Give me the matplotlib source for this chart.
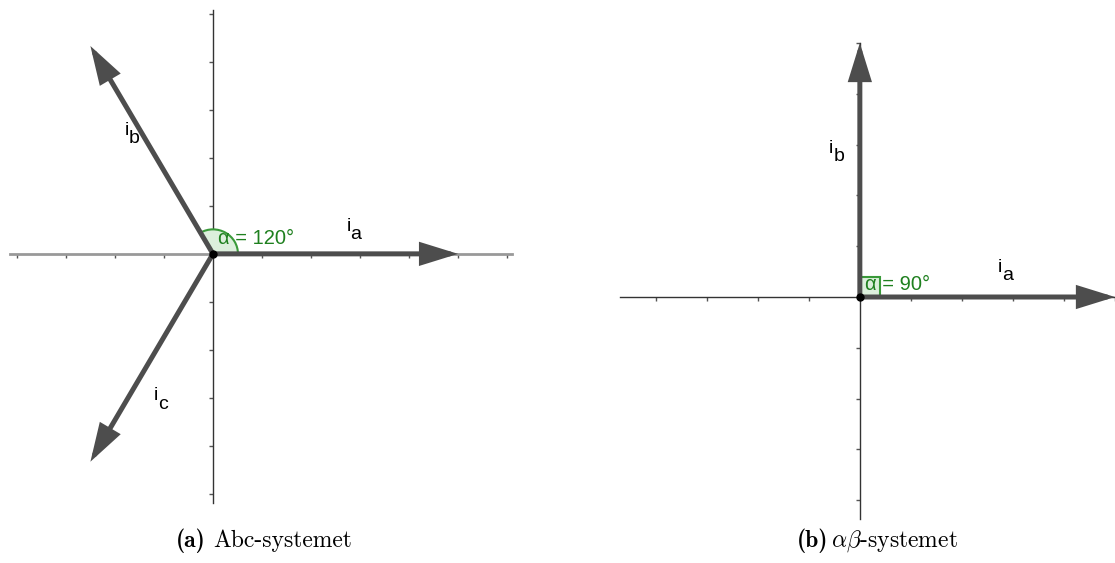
import numpy as np
import matplotlib
matplotlib.use("Agg")
import matplotlib.pyplot as plt
from matplotlib.patches import Wedge, Rectangle

# phasor data (length, angle in degrees)
abc_names = ["a", "b", "c"]
abc_angles = [0, 120, 240]
ab_names = ["a", "b"]
ab_angles = [0, 90]
vec_len = 5

# label positions (data units, position of the "i")
abc_label_pos = [(2.72, 0.48), (-1.8, 2.48), (-1.2, -3.05)]
ab_label_pos = [(2.7, 0.5), (-0.6, 2.84)]

W, H = 1115, 563
fig = plt.figure(figsize=(W / 100, H / 100), dpi=100)

arrow_col = "#4d4d4d"
green = "#1f801f"


def add_panel(px0, px1, py0, py1, xlim, ylim, xaxis_col, xaxis_lw):
    ax = fig.add_axes([px0 / W, 1 - py1 / H, (px1 - px0) / W, (py1 - py0) / H])
    ax.set_xlim(*xlim)
    ax.set_ylim(*ylim)
    for s in ["top", "right"]:
        ax.spines[s].set_visible(False)
    ax.spines["left"].set_position(("data", 0))
    ax.spines["bottom"].set_position(("data", 0))
    ax.spines["left"].set_color("#333333")
    ax.spines["left"].set_linewidth(1)
    ax.spines["bottom"].set_color(xaxis_col)
    ax.spines["bottom"].set_linewidth(xaxis_lw)
    xt = [t for t in range(int(np.ceil(xlim[0])), int(np.floor(xlim[1])) + 1) if t != 0]
    yt = [t for t in range(int(np.ceil(ylim[0])), int(np.floor(ylim[1])) + 1) if t != 0]
    ax.set_xticks(xt)
    ax.set_yticks(yt)
    ax.set_xticklabels([])
    ax.set_yticklabels([])
    ax.tick_params(direction="out", length=3, width=1, colors="#555555")
    ax.patch.set_alpha(0)
    return ax


def draw_vectors(ax, angles, names, label_pos):
    for ang, nm, (lx, ly) in zip(angles, names, label_pos):
        tip = (vec_len * np.cos(np.radians(ang)), vec_len * np.sin(np.radians(ang)))
        ax.annotate("", xy=tip, xytext=(0, 0),
                    arrowprops=dict(arrowstyle="-|>,head_length=1.45,head_width=0.45",
                                    mutation_scale=14, lw=3.6, color=arrow_col,
                                    shrinkA=0, shrinkB=0, joinstyle="miter"),
                    annotation_clip=False, zorder=4)
        ax.text(lx, ly, "i", fontsize=14, family="Liberation Sans",
                ha="left", va="baseline", zorder=6)
        ax.annotate(nm, xy=(lx, ly), xytext=(3, -6), textcoords="offset points",
                    fontsize=14, family="Liberation Sans",
                    ha="left", va="baseline", zorder=6)
    ax.plot([0], [0], "o", color="black", ms=5, zorder=5)


# (a) abc
ax1 = add_panel(10, 512, 10, 503, (-4.14, 6.1), (-5.19, 5.08), "#999999", 2)
draw_vectors(ax1, abc_angles, abc_names, abc_label_pos)
ax1.add_patch(Wedge((0, 0), 0.51, 0, 120, facecolor="#dcefdc", edgecolor="#3a9a3a",
                    lw=1.5, zorder=3))
ax1.text(0.1, 0.31, "α = 120°", fontsize=14.5, family="Liberation Sans",
         color=green, ha="left", va="center", zorder=6)

# (b) alpha-beta
ax2 = add_panel(620, 1115, 43, 519, (-4.7, 5.0), (-4.37, 5.0), "#333333", 1)
draw_vectors(ax2, ab_angles, ab_names, ab_label_pos)
ax2.add_patch(Rectangle((0, 0), 0.39, 0.39, facecolor="#dcefdc", edgecolor="#3a9a3a",
                        lw=1.5, zorder=3))
ax2.text(0.1, 0.25, "α = 90°", fontsize=14.5, family="Liberation Sans",
         color=green, ha="left", va="center", zorder=6)

# captions
fig.text(176 / W, 1 - 541 / H, "(a)", family="cmb10", fontsize=17, ha="left", va="center")
fig.text(213 / W, 1 - 541 / H, "Abc-systemet", family="cmr10", fontsize=17,
         ha="left", va="center")
fig.text(797 / W, 1 - 541 / H, "(b)", family="cmb10", fontsize=17, ha="left", va="center")
fig.text(831 / W, 1 - 541 / H, r"$\alpha\beta$-systemet", family="cmr10",
         math_fontfamily="cm", fontsize=17, ha="left", va="center")

fig.savefig("out.png", dpi=100)
